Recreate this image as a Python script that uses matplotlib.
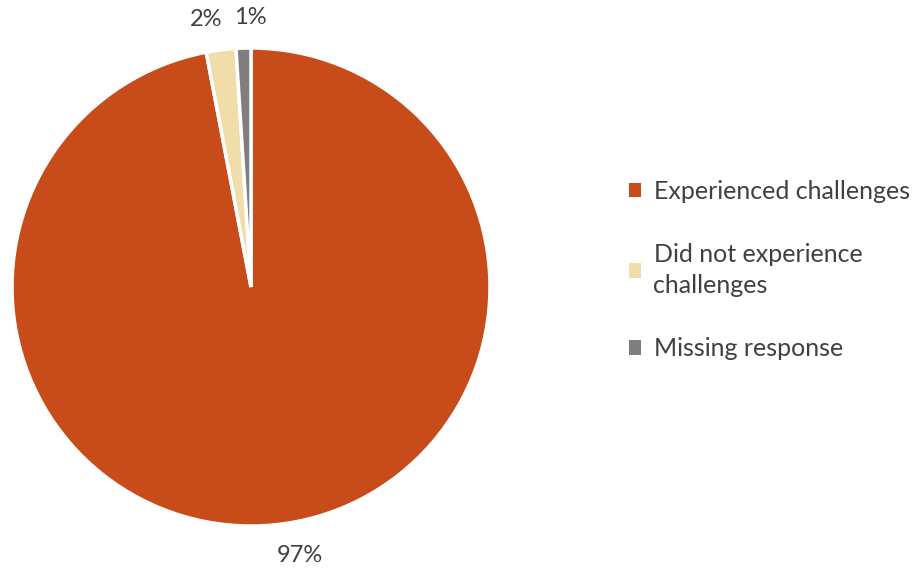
import matplotlib.pyplot as plt
from matplotlib.patches import Patch

plt.rcParams['font.family'] = ['Lato', 'DejaVu Sans']

labels = ["Experienced challenges", "Did not experience\nchallenges", "Missing response"]
values = [97, 2, 1]
pct_labels = ["97%", "2%", "1%"]
colors = ["#C84B1A", "#F0DDAA", "#7F7F7F"]
text_color = "#404040"

fig = plt.figure(figsize=(9.24, 5.73), dpi=100)
ax = fig.add_axes([12 / 924, 1 - 526 / 573, 478 / 924, 478 / 573])

wedges, texts = ax.pie(values, labels=pct_labels, colors=colors, startangle=90,
                       counterclock=False, labeldistance=1.13,
                       wedgeprops=dict(edgecolor="white", linewidth=2.5),
                       textprops=dict(fontsize=17, color=text_color))
ax.set_xlim(-1, 1)
ax.set_ylim(-1, 1)
ax.set_aspect("equal")

# nudge the two small labels like the original
x, y = texts[1].get_position()
texts[1].set_position((x + 0.02, y))
x, y = texts[2].get_position()
texts[2].set_position((x + 0.1, y))

handles = [Patch(facecolor=c, edgecolor="none") for c in colors]
leg = fig.legend(handles, labels, loc="center left", bbox_to_anchor=(606 / 924, 1 - 270 / 573),
                 frameon=False, fontsize=18, labelcolor=text_color, handlelength=0.5,
                 handleheight=0.5, handletextpad=0.5, labelspacing=1.6)
for t in leg.get_texts():
    t.set_linespacing(1.45)

fig.savefig("out.png", dpi=100)
